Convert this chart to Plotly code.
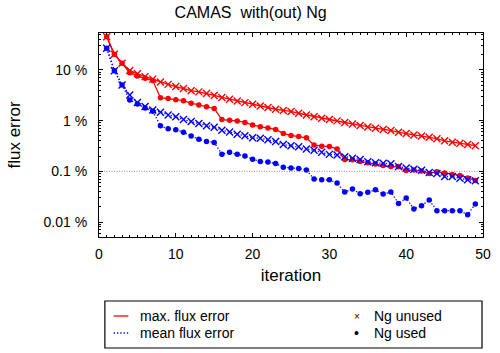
import plotly.graph_objects as go

# ---------------- data ----------------
iterations = list(range(1, 50))

max_err_ng_unused = [45.3, 20.4, 13.6, 9.8, 8.4, 7.4, 6.6, 5.8, 5.2, 4.7,
                     4.3, 3.9, 3.7, 3.45, 3.15, 2.87, 2.65, 2.45, 2.27, 2.11,
                     1.95, 1.81, 1.68, 1.59, 1.52, 1.40, 1.30, 1.20, 1.12, 1.05,
                     0.99, 0.92, 0.86, 0.80, 0.75, 0.71, 0.67, 0.64, 0.59, 0.56,
                     0.52, 0.50, 0.47, 0.44, 0.40, 0.376, 0.36, 0.34, 0.32]

max_err_ng_used = [45.3, 20.4, 13.6, 8.85, 7.6, 6.86, 6.2, 2.84, 2.74, 2.60,
                   2.48, 2.21, 2.04, 1.88, 1.74, 1.05, 1.02, 0.99, 0.925, 0.82,
                   0.76, 0.72, 0.67, 0.56, 0.51, 0.485, 0.46, 0.33, 0.314, 0.308,
                   0.277, 0.171, 0.170, 0.156, 0.147, 0.139, 0.131, 0.124, 0.123, 0.104,
                   0.106, 0.101, 0.091, 0.098, 0.093, 0.087, 0.083, 0.074, 0.066]

mean_err_ng_unused = [26.8, 9.7, 5.06, 3.22, 2.29, 1.91, 1.63, 1.47, 1.30, 1.19,
                      1.05, 0.96, 0.88, 0.79, 0.74, 0.65, 0.60, 0.54, 0.505, 0.46,
                      0.45, 0.42, 0.386, 0.34, 0.32, 0.304, 0.277, 0.26, 0.237, 0.216,
                      0.211, 0.193, 0.182, 0.172, 0.155, 0.147, 0.145, 0.141, 0.124, 0.116,
                      0.110, 0.105, 0.095, 0.091, 0.079, 0.079, 0.073, 0.068, 0.065]

mean_err_ng_used = [26.8, 9.7, 5.06, 2.56, 2.14, 1.78, 1.54, 0.79, 0.69, 0.66,
                    0.59, 0.50, 0.43, 0.39, 0.37, 0.218, 0.237, 0.218, 0.20, 0.174,
                    0.157, 0.152, 0.143, 0.12, 0.116, 0.114, 0.106, 0.0705, 0.068, 0.068,
                    0.0586, 0.0389, 0.0446, 0.0361, 0.0385, 0.0432, 0.0356, 0.0391, 0.0232, 0.0297,
                    0.0181, 0.0209, 0.0271, 0.0167, 0.0167, 0.0167, 0.0167, 0.0139, 0.0227]

x_tick_values = [0, 10, 20, 30, 40, 50]
y_tick_values = [0.01, 0.1, 1, 10]
y_tick_labels = ["0.01 %", "0.1 %", "1 %", "10 %"]
reference_level = 0.1

title_text = "CAMAS\u00a0\u00a0with(out) Ng"
legend_line_labels = ["max. flux error", "mean flux error"]
legend_marker_labels = ["Ng unused", "Ng used"]

# ---------------- style ----------------
W, H = 500, 353
ML, MR, MT, MB = 99, 9, 33, 116
PW, PH = W - ML - MR, H - MT - MB
FONT = "Liberation Sans, Arial, sans-serif"
RED = "#ff0000"
BLUE = "#0000ff"
DOTTED = "1.3px,2px"
X_RANGE = [0, 50]
Y_RANGE = [-2.296, 1.73]


def px(x):
    return (x - ML) / PW


def py(y):
    return (H - MB - y) / PH


fig = go.Figure()

# reference dotted line at 0.1 %
fig.add_trace(go.Scatter(x=X_RANGE, y=[reference_level, reference_level], mode="lines",
                         line=dict(color="#909090", width=1, dash="1px,1.5px"),
                         showlegend=False, hoverinfo="skip"))

series = [
    (max_err_ng_unused, RED, "solid", "x-thin", 7),
    (max_err_ng_used, RED, "solid", "circle", 5.5),
    (mean_err_ng_unused, BLUE, DOTTED, "x-thin", 7),
    (mean_err_ng_used, BLUE, DOTTED, "circle", 5.5),
]
for vals, col, dash, sym, size in series:
    fig.add_trace(go.Scatter(
        x=iterations, y=vals, mode="lines+markers",
        line=dict(color=col, width=1.3, dash=dash),
        marker=dict(symbol=sym, size=size, color=col,
                    line=dict(color=col, width=1.4 if sym == "x-thin" else 0)),
        showlegend=False))

minor_y = [m * 10 ** e for e in range(-3, 2) for m in range(2, 10)]

fig.update_layout(
    width=W, height=H,
    margin=dict(l=ML, r=MR, t=MT, b=MB, pad=0),
    paper_bgcolor="white", plot_bgcolor="white",
    font=dict(family=FONT, size=14, color="black"),
    title=dict(text=title_text, x=px(295.5), xanchor="center", y=1 - 12 / H,
               yanchor="middle", font=dict(size=16)),
    xaxis=dict(range=X_RANGE, tickvals=x_tick_values, ticks="inside", ticklen=4,
               tickwidth=1, tickcolor="black", showline=True, linecolor="black",
               linewidth=1.2, mirror="ticks", showgrid=False, zeroline=False,
               ticklabelstandoff=4,
               minor=dict(dtick=1, ticks="inside", ticklen=2, tickcolor="black",
                          showgrid=False),
               title=dict(text="iteration", standoff=8)),
    yaxis=dict(type="log", range=Y_RANGE, tickvals=y_tick_values, ticktext=y_tick_labels,
               ticks="inside", ticklen=4, tickwidth=1, tickcolor="black",
               showline=True, linecolor="black", linewidth=1.2, mirror="ticks",
               showgrid=False, zeroline=False, ticklabelstandoff=8,
               minor=dict(tickmode="array", tickvals=minor_y, ticks="inside", ticklen=2,
                          tickcolor="black", showgrid=False),
               title=dict(text="flux error", standoff=18)),
)

# ---------------- legend (drawn box) ----------------
shapes = [dict(type="rect", xref="paper", yref="paper",
               x0=px(105), x1=px(490), y0=py(348), y1=py(301),
               line=dict(color="black", width=1.2), fillcolor="rgba(0,0,0,0)")]
row_y = [316, 333]
shapes.append(dict(type="line", xref="paper", yref="paper", x0=px(114), x1=px(129),
                   y0=py(row_y[0]), y1=py(row_y[0]), line=dict(color=RED, width=1.3)))
shapes.append(dict(type="line", xref="paper", yref="paper", x0=px(114), x1=px(129),
                   y0=py(row_y[1]), y1=py(row_y[1]),
                   line=dict(color=BLUE, width=1.3, dash=DOTTED)))
annotations = []
for lab, ry in zip(legend_line_labels, row_y):
    annotations.append(dict(text=lab, xref="paper", yref="paper", x=px(139), y=py(ry),
                            xanchor="left", yanchor="middle", showarrow=False,
                            font=dict(size=14)))
for lab, ry in zip(legend_marker_labels, row_y):
    annotations.append(dict(text=lab, xref="paper", yref="paper", x=px(378), y=py(ry),
                            xanchor="left", yanchor="middle", showarrow=False,
                            font=dict(size=14)))
annotations.append(dict(text="\u00d7", xref="paper", yref="paper", x=px(362), y=py(row_y[0]),
                        xanchor="center", yanchor="middle", showarrow=False,
                        font=dict(size=10)))
annotations.append(dict(text="\u2022", xref="paper", yref="paper", x=px(362), y=py(row_y[1]),
                        xanchor="center", yanchor="middle", showarrow=False,
                        font=dict(size=14)))
fig.update_layout(shapes=shapes, annotations=annotations)

fig.write_html("out.html")
